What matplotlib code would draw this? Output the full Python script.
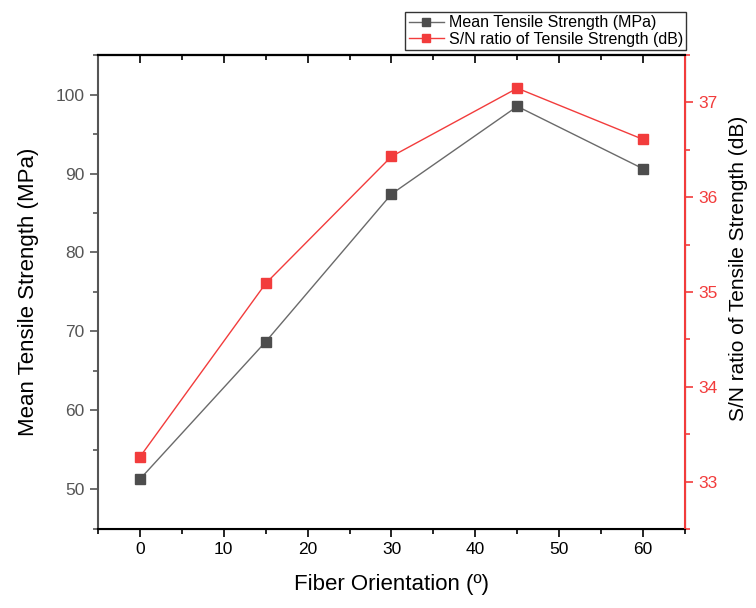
import matplotlib
matplotlib.use("Agg")
import matplotlib.pyplot as plt
from matplotlib.ticker import MultipleLocator

plt.rcParams["font.family"] = ["Liberation Sans", "DejaVu Sans"]

# fiber orientation (degrees)
orientation = [0, 15, 30, 45, 60]
mean_ts = [51.3, 68.7, 87.4, 98.5, 90.6]
sn_ratio = [33.26, 35.09, 36.43, 37.15, 36.61]

grey = "#4d4d4d"
red = "#f23c3c"

fig = plt.figure(figsize=(7.56, 6.08), dpi=100)
ax = fig.add_axes([0.1296, 0.13, 0.7765, 0.7795])
ax2 = ax.twinx()

l1, = ax.plot(orientation, mean_ts, color="#6a6a6a", lw=1.0, marker="s",
              ms=7.5, mfc=grey, mec=grey, label="Mean Tensile Strength (MPa)")
l2, = ax2.plot(orientation, sn_ratio, color=red, lw=1.0, marker="s",
               ms=7.5, mfc=red, mec=red, label="S/N ratio of Tensile Strength (dB)")

ax.set_xlim(-5, 65)
ax.set_ylim(45, 105)
ax2.set_ylim(32.5, 37.5)

ax.xaxis.set_major_locator(MultipleLocator(10))
ax.xaxis.set_minor_locator(MultipleLocator(5))
ax.yaxis.set_major_locator(MultipleLocator(10))
ax.yaxis.set_minor_locator(MultipleLocator(5))
ax2.yaxis.set_major_locator(MultipleLocator(1))
ax2.yaxis.set_minor_locator(MultipleLocator(0.5))

ax.tick_params(axis="x", which="major", direction="out", length=6, width=1.2,
               labelsize=12.5, colors="black")
ax.tick_params(axis="x", which="minor", direction="out", length=3.5, width=1.2)
ax.tick_params(axis="y", which="major", direction="out", length=6, width=1.2,
               labelsize=12.5, colors="#555555")
ax.tick_params(axis="y", which="minor", direction="out", length=3.5, width=1.2,
               colors="#555555")
ax2.tick_params(axis="y", which="major", direction="out", length=6, width=1.2,
                labelsize=12.5, colors=red)
ax2.tick_params(axis="y", which="minor", direction="out", length=3.5, width=1.2,
                colors=red)

# top axis: inward ticks, no labels
top = ax.secondary_xaxis("top")
top.xaxis.set_major_locator(MultipleLocator(10))
top.xaxis.set_minor_locator(MultipleLocator(5))
top.tick_params(which="major", direction="in", length=6, width=1.2, labeltop=False)
top.tick_params(which="minor", direction="in", length=3.5, width=1.2)
top.spines["top"].set_linewidth(1.5)

ax.spines["left"].set_color("#555555")
ax.spines["left"].set_linewidth(1.5)
ax.spines["bottom"].set_linewidth(1.5)
ax.spines["top"].set_linewidth(1.5)
ax2.spines["right"].set_color(red)
ax2.spines["right"].set_linewidth(1.5)
ax2.spines["left"].set_visible(False)
ax2.spines["top"].set_linewidth(1.5)

ax.set_xlabel("Fiber Orientation (º)", fontsize=16, labelpad=12)
ax.set_ylabel("Mean Tensile Strength (MPa)", fontsize=16, labelpad=12)
ax2.set_ylabel("S/N ratio of Tensile Strength (dB)", fontsize=15, labelpad=8)
ax2.yaxis.set_label_coords(1.075, 0.55)

leg = fig.legend(handles=[l1, l2], loc="lower right",
                 bbox_to_anchor=(686 / 756, 1 - 50 / 608), fontsize=11.5,
                 frameon=True, fancybox=False, edgecolor="black",
                 borderpad=0.2, handlelength=2.2, handletextpad=0.3,
                 labelspacing=0.1, borderaxespad=0, markerscale=0.8)
leg.get_frame().set_linewidth(1.0)

fig.savefig("out.png", dpi=100)
